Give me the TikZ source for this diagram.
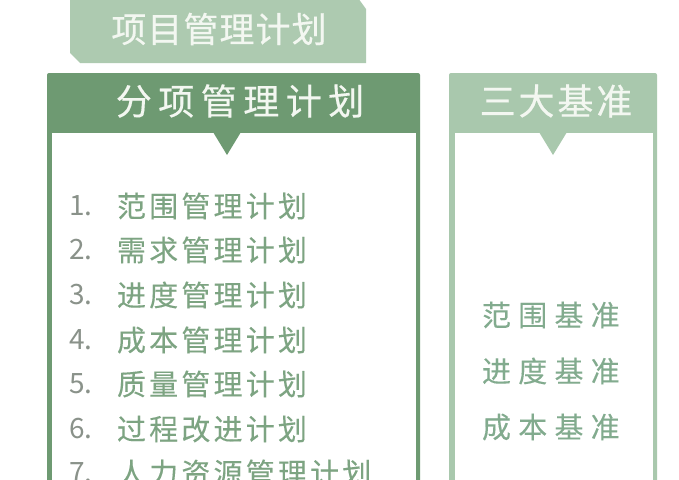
\documentclass[tikz,border=0pt]{standalone}
\usepackage{fontspec}
\setmainfont{Noto Sans CJK SC}
\newfontfamily\hdfont[LetterSpace=18,FakeBold=0.4]{Noto Sans CJK SC}
\newfontfamily\tabfont[LetterSpace=3,FakeBold=0.4]{Noto Sans CJK SC}
\newfontfamily\bsfont[LetterSpace=8,FakeBold=0.4]{Noto Sans CJK SC}
\newfontfamily\itfont[LetterSpace=11,FakeBold=0.2]{Noto Sans CJK SC}
\newfontfamily\rtfont[LetterSpace=25,FakeBold=0.2]{Noto Sans CJK SC}
\usepackage{tikz}
\usetikzlibrary{positioning}

\begin{document}
\begin{tikzpicture}[x=1pt,y=-1pt,
    every node/.style={inner sep=0pt, outer sep=0pt},
    headtext/.style={text=#1, font=\hdfont\fontsize{36}{36}\selectfont},
    itemnum/.style={anchor=west, text=numgrey, font=\fontsize{28}{28}\selectfont},
    itemtext/.style={anchor=west, text=itemgreen, font=\itfont\fontsize{29}{29}\selectfont}]
  \definecolor{darkg}{HTML}{6E9A72}\definecolor{lightg}{HTML}{A9C8AD}
  \definecolor{tabg}{HTML}{ADCAB0}\definecolor{itemgreen}{HTML}{7DA482}
  \definecolor{numgrey}{HTML}{8A928A}\definecolor{basegreen}{HTML}{82AB8E}
  \definecolor{headw}{HTML}{F3F7F1}
  \useasboundingbox (0,0) rectangle (679,479);
  \clip (0,0) rectangle (679,479);
  \fill[white] (0,0) rectangle (679,479);
  % top tab
  \fill[tabg] (70,-2) -- (358,-2) -- (366,9) -- (366,63) -- (80,63) -- (70,53) -- cycle;
  \node[headtext=headw, font=\tabfont\fontsize{35}{35}\selectfont] (plan) at (219,29) {项目管理计划};
  % left panel
  \fill[darkg, rounded corners=2pt] (47,490) -- (47,73) -- (420,73) -- (420,490) -- cycle;
  \fill[white] (52,133) rectangle (416,490);
  \fill[darkg] (213,132) -- (241,132) -- (227,155) -- cycle;
  \node[headtext=headw] (sub) at (240,101) {分项管理计划};
  % right panel
  \fill[lightg, rounded corners=2pt] (449,490) -- (449,73) -- (657,73) -- (657,490) -- cycle;
  \fill[white] (455,133) rectangle (653,490);
  \fill[lightg] (539,132) -- (567,132) -- (553,155) -- cycle;
  \node[headtext=headw, font=\bsfont\fontsize{36}{36}\selectfont] (base) at (556,101) {三大基准};
  \foreach \k/\txt [count=\i] in {206/范围管理计划, 250/需求管理计划, 295/进度管理计划,
      340/成本管理计划, 384/质量管理计划, 429/过程改进计划, 473/人力资源管理计划} {
    \node[itemnum] (n\i) at (69,\k) {\i.};
    \node[itemtext] (t\i) at (117,\k) {\txt};
  }
  \foreach \k/\txt [count=\i] in {315/范围基准, 371/进度基准, 427/成本基准}
    \node[anchor=west, text=basegreen, font=\rtfont\fontsize{29}{29}\selectfont] (b\i) at (482,\k) {\txt};
\end{tikzpicture}
\end{document}
